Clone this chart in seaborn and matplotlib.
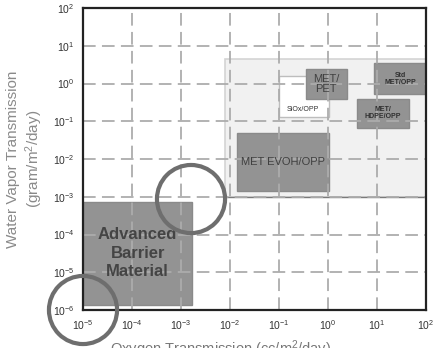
import matplotlib
matplotlib.use("Agg")
import matplotlib.pyplot as plt
import seaborn as sns
import pandas as pd
from matplotlib.patches import Rectangle
from matplotlib.ticker import LogLocator, FixedLocator

sns.set_style("white")
plt.rcParams['font.family'] = ['Liberation Sans', 'DejaVu Sans']
plt.rcParams['mathtext.fontset'] = 'custom'
plt.rcParams['mathtext.rm'] = 'Liberation Sans'
plt.rcParams['mathtext.it'] = 'Liberation Sans:italic'

# Materials: name, OTR range (x), WVTR range (y)
labels = ["Advanced\nBarrier\nMaterial", "MET EVOH/OPP", "", "MET/\nPET", "Std\nMET/OPP", "MET/\nHDPE/OPP"]
x_lo = [1e-5, 0.014, 0.1, 0.35, 8.7, 3.9]
x_hi = [0.0017, 1.07, 1.05, 2.4, 100, 46]
y_lo = [1.35e-6, 0.0014, 0.13, 0.39, 0.52, 0.068]
y_hi = [7.4e-4, 0.05, 1.58, 2.4, 3.4, 0.4]
kind = ["dark", "dark", "white", "dark", "dark", "dark"]

# Typical packaging region
region_x = [0.008, 100]
region_y = [1e-3, 4.4]

# SiOx label position
siox_label = "SiOx/OPP"
siox_xy = [0.30, 0.21]

# Highlighted points
circle_x = [0.0016, 1e-5]
circle_y = [8.7e-4, 1e-6]

fig = plt.figure(figsize=(4.33, 3.48), dpi=100)
ax = fig.add_axes([83/433, 1-310/348, 343/433, 302/348])
ax.set_xscale("log")
ax.set_yscale("log")
ax.set_xlim(1e-5, 1e2)
ax.set_ylim(1e-6, 1e2)

# background region
ax.add_patch(Rectangle((region_x[0], region_y[0]), region_x[1]-region_x[0], region_y[1]-region_y[0],
                       facecolor="#f1f1f1", edgecolor="#d4d4d4", lw=1.2, zorder=0.5))
ax.plot(region_x, [region_y[0], region_y[0]], color="#7a7a7a", lw=1.0, zorder=1.6)

# grid
ax.xaxis.set_major_locator(LogLocator(base=10, numticks=20))
ax.yaxis.set_major_locator(LogLocator(base=10, numticks=20))
ax.xaxis.set_minor_locator(FixedLocator([]))
ax.yaxis.set_minor_locator(FixedLocator([]))
ax.grid(True, which="major", color="#acacac", linestyle=(0, (7, 3.5)), lw=1.3, zorder=1)
ax.set_axisbelow(False)
for gl in ax.get_xgridlines() + ax.get_ygridlines():
    gl.set_zorder(1.5)

for lab, x0, x1, y0, y1, k in zip(labels, x_lo, x_hi, y_lo, y_hi, kind):
    if k == "dark":
        fc, ec = "#939393", "#8a8a8a"
    else:
        fc, ec = "#ffffff", "#bdbdbd"
    ax.add_patch(Rectangle((x0, y0), x1-x0, y1-y0, facecolor=fc, edgecolor=ec, lw=1.0, zorder=2))
    if lab:
        xc = (x0*x1)**0.5
        yc = (y0*y1)**0.5
        if lab.startswith("Advanced"):
            ax.text(xc, yc, lab, ha="center", va="center", fontsize=12, fontweight="bold",
                    color="#444444", linespacing=1.3, zorder=3)
        elif lab == "MET EVOH/OPP":
            ax.text(xc, yc, lab, ha="center", va="center", fontsize=8, color="#404040", zorder=3)
        elif lab == "MET/\nPET":
            ax.text(xc, yc, lab, ha="center", va="center", fontsize=8, color="#404040",
                    linespacing=1.05, zorder=3)
        else:
            ax.text(xc, yc, lab, ha="center", va="center", fontsize=5, color="#303030",
                    fontweight="bold", linespacing=1.1, zorder=3)

ax.text(siox_xy[0], siox_xy[1], siox_label, ha="center", va="center", fontsize=5,
        color="#303030", zorder=3)

# circles
df_c = pd.DataFrame({"x": circle_x, "y": circle_y})
sns.scatterplot(data=df_c, x="x", y="y", ax=ax, s=68**2*0.52, marker="o",
                facecolor="none", edgecolor="#6e6e6e", linewidth=3, zorder=5, clip_on=False,
                legend=False)

for s in ax.spines.values():
    s.set_color("#222222")
    s.set_linewidth(1.6)
    s.set_zorder(4)

ax.tick_params(length=0, labelsize=7.5, labelcolor="#333333", pad=6)
ax.set_xlabel("Oxygen Transmission (cc/m$^2$/day)", fontsize=10.5, color="#777777")
ax.xaxis.set_label_coords((221-83)/343, -(338-310)/302, transform=ax.transAxes)
ax.xaxis.label.set_va("top")
ax.set_ylabel("Water Vapor Transmission\n(gram/m$^2$/day)", fontsize=11, color="#8a8a8a", labelpad=6)

fig.savefig("out.png", dpi=100)
